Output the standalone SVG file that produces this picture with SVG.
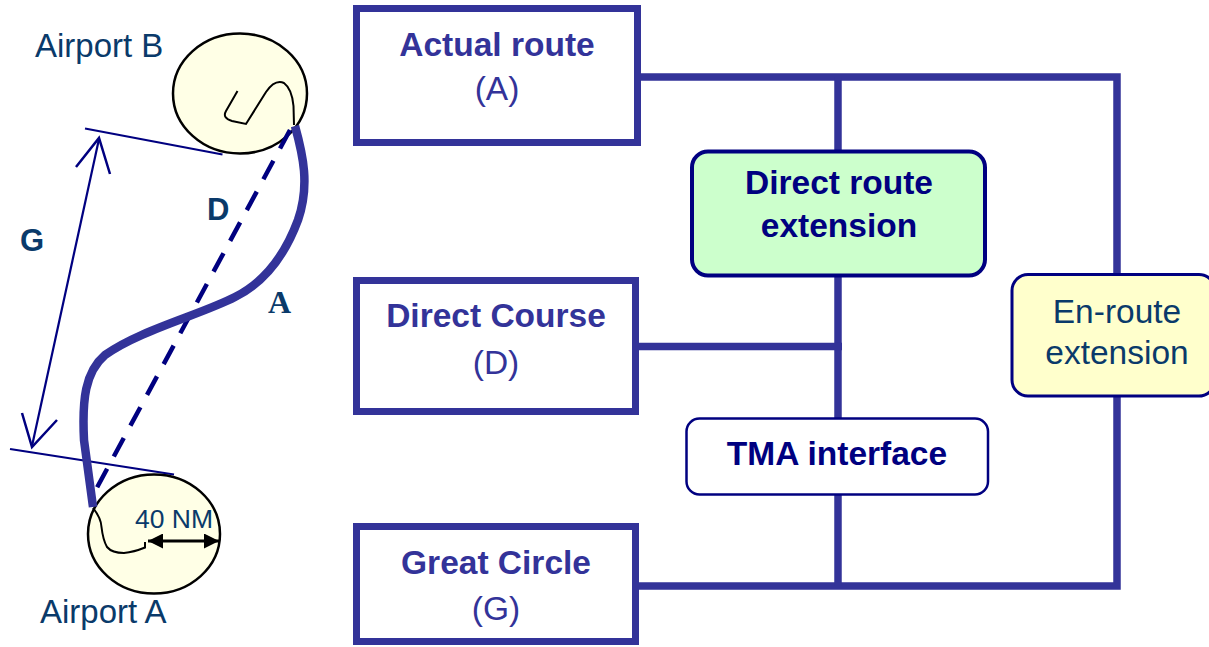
<svg xmlns="http://www.w3.org/2000/svg" width="1209" height="647" viewBox="0 0 1209 647">
<style>
.conn{fill:none;stroke:#333399;stroke-width:7.5;stroke-linejoin:miter;stroke-linecap:butt}
.sq{fill:#ffffff;stroke:#333399;stroke-width:7}
.b{font-family:"Liberation Sans",Arial,sans-serif;font-weight:bold;font-size:33.5px;text-anchor:middle}
.r{font-family:"Liberation Sans",Arial,sans-serif;font-size:33.5px;text-anchor:middle}
.lbl{font-family:"Liberation Sans",Arial,sans-serif;font-size:33px;fill:#0a3a6a}
.apt{fill:#ffffe6;stroke:#000000;stroke-width:2.5}
.sq2{fill:none;stroke:#000000;stroke-width:2}
.nav{fill:none;stroke:#000080;stroke-width:2.5}
</style>
<defs>
<marker id="ah" viewBox="0 0 10 10" refX="10" refY="5" markerWidth="6" markerHeight="5" markerUnits="strokeWidth" orient="auto-start-reverse">
<path d="M0,0 L10,5 L0,10 z" fill="#000000"/>
</marker>
</defs>

<g id="connectors">
<path class="conn" d="M638,77 H1117 V586 H638"/>
<path class="conn" d="M838,77 V586"/>
<path class="conn" d="M636,346.5 H842"/>
</g>

<g id="map">
<line x1="85" y1="128.5" x2="222.5" y2="154.5" stroke="#000080" stroke-width="2.2"/>
<line x1="10" y1="449" x2="174" y2="474.5" stroke="#000080" stroke-width="2.2"/>
<line x1="99" y1="139" x2="32" y2="446" stroke="#000080" stroke-width="2.2"/>
<path class="nav" d="M76,167 L99,138 L110,174"/>
<path class="nav" d="M22,413 L32,447 L57,420"/>
<g id="airportB">
<ellipse class="apt" cx="240" cy="93.5" rx="67" ry="60"/>
<path class="sq2" d="M237.5,91 L226,111 Q222,118 232,121 L246,124 Q256,108 266,92 Q275,79 284,83 Q292,89 293.5,106 L294,125"/>
<text class="lbl" x="35" y="57">Airport B</text>
</g>
<g id="airportA">
<ellipse class="apt" cx="154" cy="534" rx="66" ry="59.5"/>
<path class="sq2" d="M93,508 Q101,518 101.5,527 Q103,540 107,547 Q112,553 124,553 Q134,552 145,547.5 L145,542"/>
<line x1="148" y1="541" x2="219" y2="541" stroke="#000000" stroke-width="3" marker-start="url(#ah)" marker-end="url(#ah)"/>
<text x="135" y="528" font-family="'Liberation Sans',Arial,sans-serif" font-size="26.5" fill="#0a3a6a">40 NM</text>
<text class="lbl" x="40" y="623">Airport A</text>
</g>
<line x1="290" y1="130" x2="93" y2="495" stroke="#000080" stroke-width="4.5" stroke-dasharray="21 14"/>
<path d="M295,126 C303,155 310,185 298,220 C285,255 265,282 235,297 C200,315 140,330 105,355 C85,372 82,400 84,440 L93,507" fill="none" stroke="#333399" stroke-width="8.5"/>
<text x="20" y="251" font-family="'Liberation Sans',Arial,sans-serif" font-weight="bold" font-size="31" fill="#0a3a6a">G</text>
<text x="207" y="220" font-family="'Liberation Sans',Arial,sans-serif" font-weight="bold" font-size="31" fill="#0a3a6a">D</text>
<text x="268" y="313" font-family="'Liberation Serif','Times New Roman',serif" font-weight="bold" font-size="32" fill="#0a3a6a">A</text>
</g>

<g id="actual-route">
<rect class="sq" x="356.5" y="8.5" width="281" height="134"/>
<text class="b" x="497" y="56" fill="#333399">Actual route</text>
<text class="r" x="497" y="100" fill="#333399">(A)</text>
</g>
<g id="direct-course">
<rect class="sq" x="356.5" y="280.5" width="279" height="131"/>
<text class="b" x="496" y="327" fill="#333399">Direct Course</text>
<text class="r" x="496" y="374" fill="#333399">(D)</text>
</g>
<g id="great-circle">
<rect class="sq" x="356.5" y="526.5" width="279" height="115"/>
<text class="b" x="496" y="574" fill="#333399">Great Circle</text>
<text class="r" x="496" y="620" fill="#333399">(G)</text>
</g>
<g id="direct-route-extension">
<rect x="692" y="151.5" width="293" height="124" rx="16" fill="#ccffcc" stroke="#000080" stroke-width="4"/>
<text class="b" x="839" y="194" fill="#000080">Direct route</text>
<text class="b" x="839" y="237" fill="#000080">extension</text>
</g>
<g id="tma-interface">
<rect x="686.5" y="418.5" width="301.5" height="76" rx="13" fill="#ffffff" stroke="#000080" stroke-width="2.5"/>
<text class="b" x="837" y="465" fill="#000080">TMA interface</text>
</g>
<g id="en-route-extension">
<rect x="1012" y="274.5" width="203" height="121.5" rx="16" fill="#ffffcc" stroke="#000080" stroke-width="3"/>
<text class="r" x="1117" y="323" fill="#0a3a6a">En-route</text>
<text class="r" x="1117" y="364" fill="#0a3a6a">extension</text>
</g>
</svg>
